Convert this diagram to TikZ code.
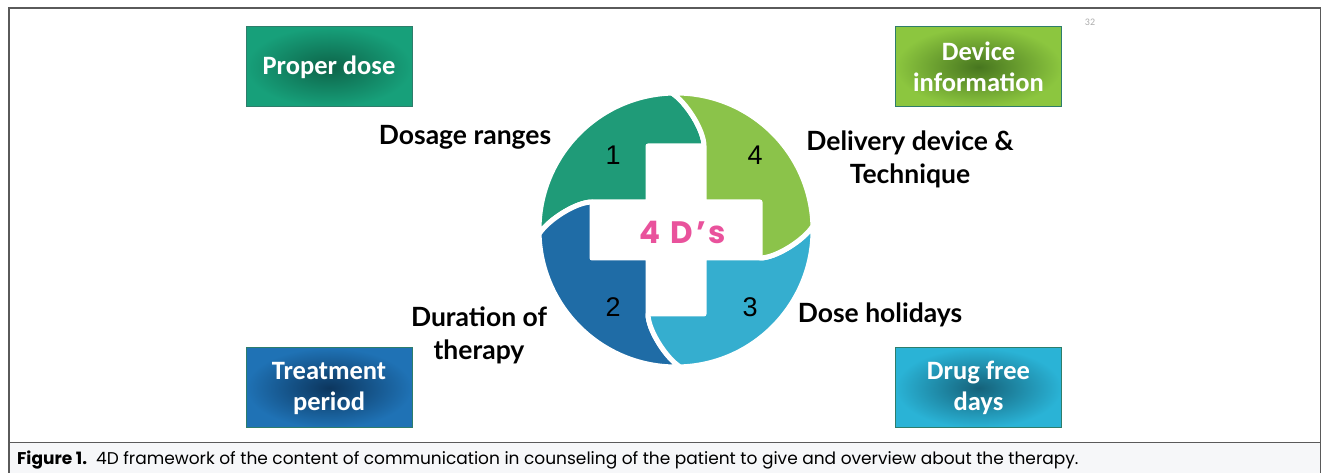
\documentclass[tikz,border=0pt]{standalone}
\usepackage{fontspec}
\usepackage{tikz}
\usepackage{color}
\setmainfont{Lato}
\newfontfamily\boxfont{Carlito}
\newfontfamily\numfont{Liberation Sans}
\newfontfamily\dfont{Poppins}[LetterSpace=10]
\newfontfamily\capfont{Poppins}

\definecolor{qgreen}{HTML}{1F9B78}
\definecolor{qblue}{HTML}{1F6CA6}
\definecolor{qcyan}{HTML}{35AECF}
\definecolor{qlime}{HTML}{8BC34A}
\definecolor{dpink}{HTML}{E9529C}
\definecolor{boxedge}{HTML}{2E7D6B}
\definecolor{capbg}{HTML}{F6F7F9}
\definecolor{framegray}{HTML}{5A5A5A}
\definecolor{greenout}{HTML}{17A07A}
\definecolor{greenin}{HTML}{0D6449}
\definecolor{limeout}{HTML}{8CC63F}
\definecolor{limein}{HTML}{47761F}
\definecolor{blueout}{HTML}{1F72B5}
\definecolor{bluein}{HTML}{0C365E}
\definecolor{cyanout}{HTML}{2AB3D6}
\definecolor{cyanin}{HTML}{15627A}

\tikzset{
  quarter/.pic={
    \fill[draw=white, line width=5pt, line join=round] (-84,28) -- (-28,28) -- (-28,84) -- (28,84)
      .. controls (28,100) and (10,128) .. (91.7:137)
      arc[start angle=91.7, end angle=181.7, radius=137]
      .. controls (-128,10) and (-100,28) .. (-84,28) -- cycle;
  }
}

\begin{document}
\begin{tikzpicture}[x=1pt,y=1pt,
    tagbox/.style={minimum width=166pt, minimum height=80pt, inner sep=0pt, draw=boxedge, line width=1pt,
      text=white, align=center, font=\boxfont\bfseries\fontsize{26.5}{31}\selectfont},
    lbl/.style={inner sep=0pt, align=center, font=\bfseries\fontsize{26.5}{33}\selectfont},
    num/.style={inner sep=0pt, font=\numfont\fontsize{27}{27}\selectfont}]
	\useasboundingbox (0,0) rectangle (1321,473);
	% frame and caption band
	\fill[capbg] (9,0) rectangle (1321,30);
	\draw[framegray, line width=1.2pt] (9,0) -- (9,465) -- (1320.4,465) -- (1320.4,0);
	\draw[framegray, line width=1pt] (9,30) -- (1321,30);
	\node[anchor=base west, inner sep=0pt, font=\capfont\fontsize{17}{17}\selectfont] (caption) at (17,8)
		{\textbf{Figure 1.}\ \ 4D framework of the content of communication in counseling of the patient to give and overview about the therapy.};
	\node[inner sep=0pt, text=gray!65, font=\boxfont\fontsize{10}{10}\selectfont] (pageno) at (1090,451) {32};
	% the four quarters
	\coordinate (hub) at (676,243);
	\pic[fill=qgreen] at (hub) {quarter};
	\pic[fill=qblue, rotate=90] at (hub) {quarter};
	\pic[fill=qcyan, rotate=180] at (hub) {quarter};
	\pic[fill=qlime, rotate=270] at (hub) {quarter};
	\node[num] (n1) at (613,318) {1};
	\node[num] (n2) at (613,166) {2};
	\node[num] (n3) at (750,166) {3};
	\node[num] (n4) at (755,318) {4};
	\node[inner sep=0pt, text=dpink, font=\dfont\bfseries\fontsize{31}{31}\selectfont] (fourd) at (683,241) {4 D’s};
	% labels round the ring
	\node[lbl] (dosage) at (465,336) {Dosage ranges};
	\node[lbl] (delivery) at (910,314) {Delivery device \&\\Technique};
	\node[lbl] (duration) at (479,138) {Duration of\\therapy};
	\node[lbl] (holidays) at (880,158) {Dose holidays};
	% corner boxes
	\node[tagbox, inner color=greenin, outer color=greenout] (proper) at (329,406) {Proper dose};
	\node[tagbox, inner color=limein, outer color=limeout] (device) at (978.5,406) {Device\\information};
	\node[tagbox, inner color=bluein, outer color=blueout] (treatment) at (329,85) {Treatment\\period};
	\node[tagbox, inner color=cyanin, outer color=cyanout] (drugfree) at (978.5,85) {Drug free\\days};
\end{tikzpicture}
\end{document}
